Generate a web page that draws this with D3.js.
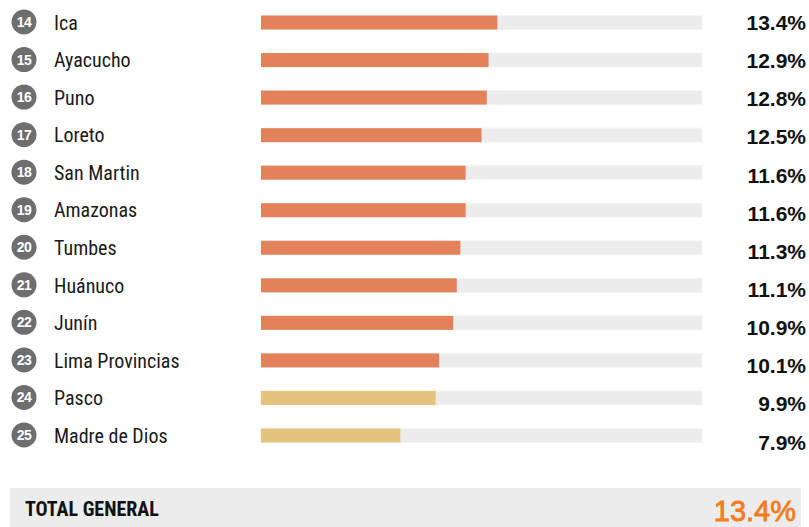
<!DOCTYPE html>
<html><head><meta charset="utf-8">
<script src="https://cdn.jsdelivr.net/npm/d3@7"></script>
<style>body{margin:0;background:#fff}svg{display:block}</style>
</head><body>
<script>
const ranks = [14,15,16,17,18,19,20,21,22,23,24,25];
const regions = ["Ica","Ayacucho","Puno","Loreto","San Martin","Amazonas","Tumbes","Huánuco","Junín","Lima Provincias","Pasco","Madre de Dios"];
const values = [13.4,12.9,12.8,12.5,11.6,11.6,11.3,11.1,10.9,10.1,9.9,7.9];
const highlight = [1,1,1,1,1,1,1,1,1,1,0,0];
const totalLabel = "TOTAL GENERAL";
const totalValue = 13.4;

const W=809,H=527;
const svg=d3.select("body").append("svg").attr("width",W).attr("height",H);
const x=d3.scaleLinear().domain([0,25]).range([261,702]);
const y=d3.scalePoint().domain(regions).range([22.5,435.5]);
const yv=d3.scalePoint().domain(regions).range([22.5,442]);
const barH=14;
const narrow="'Liberation Sans Narrow','Arial Narrow','Roboto Condensed',sans-serif";
const sans="'Liberation Sans', Arial, sans-serif";

const g=svg.append("g");
const rows=g.selectAll("g.row").data(regions).join("g").attr("class","row");
rows.append("rect").attr("x",x(0)).attr("y",d=>y(d)-barH/2).attr("width",x(25)-x(0)).attr("height",barH)
  .attr("fill","#ececec").attr("stroke","#f4f4f4").attr("stroke-width",1);
rows.append("rect").attr("x",x(0)).attr("y",(d)=>y(d)-barH/2).attr("width",(d,i)=>x(values[i])-x(0)).attr("height",barH)
  .attr("fill",(d,i)=>highlight[i]?"#e3815a":"#e5c27d");
rows.append("circle").attr("cx",24).attr("cy",d=>y(d)-0.5).attr("r",12.5).attr("fill","#6e6e6e");
rows.append("text").attr("x",24).attr("y",d=>y(d)-0.5).attr("dy","0.36em").attr("text-anchor","middle")
  .attr("fill","#fff").attr("font-family",sans).attr("font-weight","bold").attr("font-size",14)
  .attr("letter-spacing",-0.5).text((d,i)=>ranks[i]);
rows.append("text").attr("x",54).attr("y",d=>y(d)).attr("dy","0.36em")
  .attr("fill","#1a1a1a").attr("font-family",narrow).attr("font-size",20).text(d=>d);
rows.append("text").attr("x",806).attr("y",d=>yv(d)).attr("dy","0.36em").attr("text-anchor","end")
  .attr("fill","#111").attr("font-family",sans).attr("font-weight","bold").attr("font-size",21)
  .text((d,i)=>values[i].toFixed(1)+"%");

svg.append("rect").attr("x",10).attr("y",488).attr("width",791).attr("height",40).attr("fill","#ececec");
svg.append("text").attr("x",25).attr("y",509).attr("dy","0.36em").attr("font-family",narrow).attr("font-weight","bold")
  .attr("font-size",20).attr("fill","#111").text(totalLabel);
svg.append("text").attr("x",796).attr("y",511).attr("dy","0.36em").attr("text-anchor","end")
  .attr("font-family",sans).attr("font-size",29).attr("fill","#f47b20")
  .attr("stroke","#f47b20").attr("stroke-width",0.8)
  .text(totalValue.toFixed(1)+"%");
</script>
</body></html>
